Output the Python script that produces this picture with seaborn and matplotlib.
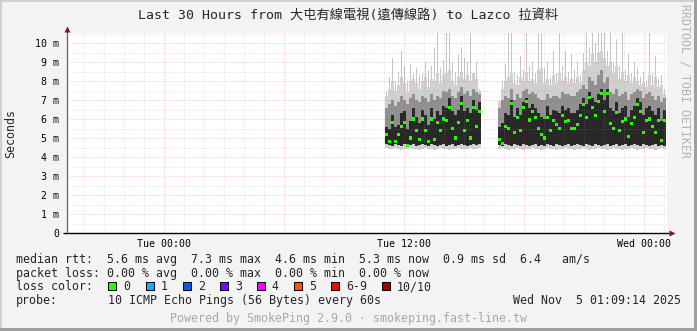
import numpy as np
import pandas as pd
import matplotlib
matplotlib.use("Agg")
import matplotlib.pyplot as plt
import matplotlib.dates as mdates
import matplotlib.ticker as mticker
from matplotlib.patches import Rectangle
import seaborn as sns

# ---------------- data ----------------
title = "Last 30 Hours from 大屯有線電視(遠傳線路) to Lazco 拉資料"
window_start = "2025-11-03 19:09:14"
window_end = "2025-11-05 01:09:14"
segment_starts = ["2025-11-04 11:03", "2025-11-04 16:42"]
segment_lengths = [32, 56]
step_minutes = 9

rtt_min = [
    4.45, 4.40, 4.40, 4.45, 4.40, 4.35, 4.40, 4.40,
    4.45, 4.40, 4.40, 4.35, 4.40, 4.45, 4.40, 4.40,
    4.35, 4.40, 4.45, 4.40, 4.40, 4.35, 4.40, 4.40,
    4.45, 4.40, 4.40, 4.40, 4.45, 4.40, 4.40, 4.45,
    4.40, 4.45, 4.40, 4.35, 4.40, 4.40, 4.45, 4.40,
    4.35, 4.40, 4.40, 4.45, 4.40, 4.40, 4.35, 4.40,
    4.45, 4.40, 4.40, 4.35, 4.40, 4.40, 4.45, 4.40,
    4.40, 4.35, 4.40, 4.40, 4.45, 4.40, 4.35, 4.40,
    4.40, 4.45, 4.40, 4.40, 4.35, 4.40, 4.45, 4.40,
    4.40, 4.35, 4.40, 4.40, 4.45, 4.40, 4.35, 4.40,
    4.40, 4.45, 4.40, 4.40, 4.35, 4.40, 4.45, 4.40,
]
rtt_p25 = [
    4.70, 4.65, 4.60, 4.70, 4.65, 4.60, 4.70, 4.60,
    4.65, 4.70, 4.60, 4.65, 4.70, 4.65, 4.60, 4.70,
    4.65, 4.60, 4.65, 4.70, 4.60, 4.65, 4.70, 4.60,
    4.65, 4.70, 4.65, 4.60, 4.65, 4.70, 4.65, 4.70,
    4.65, 4.60, 4.70, 4.65, 4.60, 4.70, 4.65, 4.60,
    4.70, 4.65, 4.60, 4.65, 4.70, 4.60, 4.65, 4.60,
    4.70, 4.65, 4.60, 4.70, 4.65, 4.60, 4.65, 4.70,
    4.60, 4.65, 4.70, 4.65, 4.60, 4.70, 4.65, 4.60,
    4.70, 4.65, 4.60, 4.65, 4.70, 4.60, 4.65, 4.70,
    4.60, 4.65, 4.70, 4.60, 4.65, 4.70, 4.65, 4.60,
    4.70, 4.65, 4.60, 4.65, 4.70, 4.60, 4.65, 4.60,
]
rtt_median = [
    5.2, 4.8, 5.8, 4.8, 5.2, 5.6, 5.8, 4.6,
    5.0, 6.0, 5.4, 4.9, 6.0, 5.4, 4.8, 6.0,
    4.9, 5.8, 5.4, 6.0, 5.9, 6.6, 5.5, 5.0,
    5.8, 6.8, 5.4, 5.9, 5.0, 6.6, 5.6, 6.4,
    4.9, 4.7, 5.6, 5.5, 6.8, 5.3, 6.1, 5.4,
    6.6, 6.9, 5.95, 6.4, 6.1, 5.5, 5.2, 5.0,
    6.1, 5.4, 5.9, 5.7, 5.5, 6.2, 5.85, 5.9,
    5.5, 5.5, 5.7, 6.2, 6.75, 6.1, 7.15, 6.6,
    6.2, 6.9, 7.35, 6.4, 7.35, 5.75, 5.5, 6.35,
    5.4, 5.85, 6.0, 5.1, 5.75, 6.1, 6.75, 6.4,
    5.3, 5.9, 6.0, 5.6, 5.3, 5.9, 4.85, 5.9,
]
rtt_p75 = [
    5.6, 5.5, 6.2, 5.6, 5.7, 6.3, 6.4, 5.5,
    5.9, 6.6, 6.1, 5.8, 6.5, 6.2, 5.7, 6.6,
    6.0, 6.4, 6.2, 6.7, 6.6, 7.1, 6.4, 6.2,
    6.5, 7.2, 6.4, 6.6, 6.3, 7.0, 6.5, 6.9,
    5.6, 5.8, 6.3, 6.2, 7.0, 6.1, 6.6, 6.2,
    6.9, 7.1, 6.6, 6.8, 6.6, 6.3, 6.1, 6.0,
    6.7, 6.2, 6.5, 6.4, 6.3, 6.7, 6.5, 6.6,
    6.3, 6.3, 6.5, 6.8, 7.1, 6.8, 7.4, 7.1,
    6.9, 7.3, 7.6, 7.0, 7.6, 6.6, 6.4, 6.9,
    6.3, 6.6, 6.7, 6.1, 6.5, 6.7, 7.1, 6.9,
    6.2, 6.6, 6.7, 6.4, 6.2, 6.6, 5.9, 6.5,
]
rtt_p90 = [
    6.6, 6.8, 7.0, 6.7, 6.9, 7.2, 7.0, 6.8,
    7.1, 7.3, 7.0, 6.9, 7.2, 7.1, 6.9, 7.3,
    7.0, 7.2, 7.1, 7.5, 7.4, 7.6, 7.2, 7.1,
    7.4, 7.7, 7.3, 7.5, 7.2, 7.6, 7.4, 7.3,
    6.6, 7.0, 7.2, 7.1, 7.6, 7.0, 7.3, 7.1,
    7.5, 7.6, 7.3, 7.4, 7.3, 7.1, 7.0, 7.0,
    7.3, 7.1, 7.2, 7.2, 7.1, 7.4, 7.3, 7.3,
    7.2, 7.2, 7.4, 7.6, 7.8, 7.6, 8.2, 8.0,
    7.8, 8.3, 8.6, 7.9, 8.2, 7.4, 7.3, 7.6,
    7.2, 7.3, 7.4, 7.0, 7.3, 7.4, 7.6, 7.5,
    7.1, 7.3, 7.4, 7.2, 7.0, 7.2, 6.9, 7.1,
]
rtt_ping9 = [
    7.2, 7.6, 8.0, 7.5, 7.8, 8.2, 7.9, 7.4,
    8.0, 8.1, 7.9, 7.6, 8.0, 8.2, 7.7, 8.1,
    8.0, 8.4, 7.9, 8.3, 8.4, 8.6, 8.0, 7.8,
    8.2, 8.5, 8.1, 8.3, 8.0, 8.4, 8.1, 7.5,
    6.9, 7.6, 8.0, 8.2, 8.4, 7.9, 7.8, 8.2,
    8.0, 8.5, 8.0, 8.1, 7.9, 8.6, 8.7, 7.9,
    8.1, 7.8, 8.3, 7.9, 8.4, 8.0, 8.2, 7.9,
    8.1, 7.9, 8.2, 7.9, 8.6, 9.0, 8.8, 9.4,
    9.0, 9.5, 9.6, 9.2, 8.8, 9.0, 8.4, 8.8,
    8.1, 8.5, 8.0, 8.3, 7.9, 8.2, 8.0, 7.8,
    7.9, 7.7, 8.3, 7.8, 8.2, 7.7, 7.8, 7.3,
]
rtt_max = [
    7.4, 8.2, 9.2, 8.0, 8.5, 9.6, 8.8, 8.0,
    8.9, 8.4, 8.7, 8.3, 8.4, 9.0, 8.6, 8.8,
    9.8, 10.6, 8.7, 9.1, 10.6, 10.6, 9.0, 8.5,
    9.4, 9.8, 9.2, 9.0, 10.6, 8.4, 9.0, 7.6,
    7.0, 8.0, 8.9, 10.6, 10.6, 8.5, 8.3, 9.3,
    8.6, 10.6, 8.8, 9.0, 8.4, 10.6, 10.6, 8.7,
    9.0, 8.2, 9.6, 8.4, 10.6, 8.8, 9.6, 8.5,
    9.4, 8.6, 9.0, 8.3, 9.5, 10.6, 9.8, 10.6,
    10.0, 10.6, 10.6, 10.6, 9.6, 10.6, 9.0, 10.2,
    8.8, 10.6, 8.6, 9.4, 8.4, 9.0, 8.7, 8.2,
    8.5, 8.0, 10.6, 8.4, 9.3, 8.1, 8.3, 7.6,
]

x_tick_times = ["2025-11-04 00:00", "2025-11-04 12:00", "2025-11-05 00:00"]
x_tick_labels = ["Tue 00:00", "Tue 12:00", "Wed 00:00"]
y_ticks = [0, 1, 2, 3, 4, 5, 6, 7, 8, 9, 10]
y_tick_labels = ["0", "1 m", "2 m", "3 m", "4 m", "5 m", "6 m", "7 m", "8 m", "9 m", "10 m"]
y_label = "Seconds"

stats_line1 = "median rtt:  5.6 ms avg  7.3 ms max  4.6 ms min  5.3 ms now  0.9 ms sd  6.4   am/s"
stats_line2 = "packet loss: 0.00 % avg  0.00 % max  0.00 % min  0.00 % now"
loss_title = "loss color:"
loss_labels = ["0", "1", "2", "3", "4", "5", "6-9", "10/10"]
loss_colors = ["#26ff00", "#00b8ff", "#0059ff", "#7e00ff", "#ff00ff", "#ff5500", "#ff0000", "#a00000"]
probe_label = "probe:"
probe_text = "10 ICMP Echo Pings (56 Bytes) every 60s"
stamp_text = "Wed Nov  5 01:09:14 2025"
footer_text = "Powered by SmokePing 2.9.0 · smokeping.fast-line.tw"
side_text = "RRDTOOL / TOBI OETIKER"

# ---------------- style ----------------
sns.set_theme(style="white")
MONO = ["DejaVu Sans Mono", "Noto Sans CJK TC"]
plt.rcParams["font.family"] = MONO
plt.rcParams["axes.unicode_minus"] = False

W, H = 697, 331
fig = plt.figure(figsize=(W / 100, H / 100), dpi=100)
fig.patch.set_facecolor("#f3f3f3")

ax = fig.add_axes([67 / W, (H - 233) / H, 600 / W, 200 / H])
ax.set_facecolor("white")
for s in ax.spines.values():
    s.set_visible(False)

# times
times = []
for st, n in zip(segment_starts, segment_lengths):
    times.extend(pd.date_range(st, periods=n, freq=f"{step_minutes}min"))
tnum = mdates.date2num(pd.to_datetime(times).to_pydatetime())
step = step_minutes / 1440.0

df = pd.DataFrame({
    "t": tnum, "lo": rtt_min, "p25": rtt_p25, "med": rtt_median,
    "p75": rtt_p75, "p90": rtt_p90, "p9": rtt_ping9, "hi": rtt_max,
})

# smoke
ax.bar(df["t"] + step / 3, df["hi"] - df["lo"], bottom=df["lo"], width=step / 3,
       align="edge", color="#c6c6c6", linewidth=0, zorder=1)
ax.bar(df["t"], df["p9"] - df["lo"], bottom=df["lo"], width=step,
       align="edge", color="#d0d0d0", linewidth=0, zorder=1.1)
ax.bar(df["t"], df["p90"] - df["p25"], bottom=df["p25"], width=step,
       align="edge", color="#909090", linewidth=0, zorder=1.2)
ax.bar(df["t"], df["p75"] - df["p25"], bottom=df["p25"], width=step,
       align="edge", color="#282828", linewidth=0, zorder=1.3)

sns.scatterplot(x=df["t"] + step / 2, y=df["med"], marker="s", s=5,
                color=loss_colors[0], edgecolor="none", linewidth=0,
                ax=ax, zorder=4, legend=False)
ax.set_xlabel("")

x0 = mdates.date2num(pd.Timestamp(window_start).to_pydatetime())
x1 = mdates.date2num(pd.Timestamp(window_end).to_pydatetime())
ax.set_xlim(x0, x1)
ax.set_ylim(0, 200 / 19)

# ticks / grid
label_nums = mdates.date2num(pd.to_datetime(x_tick_times).to_pydatetime())
def xfmt(v, pos):
    for n, lab in zip(label_nums, x_tick_labels):
        if abs(v - n) < 1e-4:
            return lab
    return ""
ax.xaxis.set_major_locator(mdates.HourLocator(byhour=[0, 6, 12, 18]))
ax.xaxis.set_minor_locator(mdates.HourLocator())
ax.xaxis.set_major_formatter(mticker.FuncFormatter(xfmt))
ax.xaxis.set_minor_formatter(mticker.NullFormatter())
ax.yaxis.set_major_locator(mticker.FixedLocator(y_ticks))
ax.yaxis.set_major_formatter(mticker.FixedFormatter(y_tick_labels))
ax.yaxis.set_minor_locator(mticker.MultipleLocator(0.5))

ax.set_axisbelow(False)
dot = (0, (1.0, 1.4))
ax.grid(which="major", color="#ff0000", alpha=0.22, lw=0.72, ls=dot)
ax.grid(which="minor", color="#9a9a9a", alpha=0.28, lw=0.72, ls=dot)

ax.tick_params(axis="both", which="both", direction="out", labelsize=7.1,
               labelcolor="#000000")
ax.tick_params(axis="x", which="major", length=2.5, width=0.72, color="#e8a0a0", pad=1.6)
ax.tick_params(axis="x", which="minor", length=2, width=0.72, color="#d8d8d8")
ax.tick_params(axis="y", which="major", length=3, width=0.72, color="#e8a0a0", pad=2.5)
ax.tick_params(axis="y", which="minor", length=2, width=0.72, color="#d8d8d8")
for lab in ax.get_xticklabels() + ax.get_yticklabels():
    lab.set_fontfamily(MONO)

ax.set_ylabel(y_label, fontsize=8.4)
ax.yaxis.label.set_va("center")
ax.yaxis.label.set_ha("center")
ax.yaxis.set_label_coords(-56 / 600, 0.5)

# axis lines and arrows
ax.plot([-4 / 600, 1 + 2 / 600], [0, 0], transform=ax.transAxes, color="#000000",
        lw=1.0, clip_on=False, zorder=6, solid_capstyle="butt")
ax.plot([0, 0], [0, 1 + 2 / 200], transform=ax.transAxes, color="#606060",
        lw=0.9, clip_on=False, zorder=6, solid_capstyle="butt")
ax.plot([1 + 4.5 / 600], [0], marker=">", ms=4.2, color="#8b1010", mec="none",
        transform=ax.transAxes, clip_on=False, zorder=7)
ax.plot([0], [1 + 4 / 200], marker="^", ms=4.2, color="#8b1010", mec="none",
        transform=ax.transAxes, clip_on=False, zorder=7)

# ---------------- texts ----------------
def T(x, y, s, **kw):
    kw.setdefault("fontsize", 8.4)
    kw.setdefault("family", MONO)
    kw.setdefault("va", "center")
    return fig.text(x / W, 1 - y / H, s, **kw)

T(348.5, 16, title, ha="center", fontsize=9.5)
T(685.5, 81, side_text, ha="center", rotation=270, color="#b4b4b4")
T(16, 259.5, stats_line1)
T(16, 273.3, stats_line2)
T(16, 287, loss_title)
box_x = [108, 145.7, 182.7, 220, 256.7, 294, 331, 381.7]
for bx, lab, col in zip(box_x, loss_labels, loss_colors):
    fig.add_artist(Rectangle((bx / W, 1 - 290 / H), 8 / W, 8 / H,
                             transform=fig.transFigure, facecolor=col,
                             edgecolor="#000000", lw=0.75))
    T(bx + 15, 287, lab)
T(16, 300.7, probe_label)
T(107.5, 300.7, probe_text)
T(681, 300.7, stamp_text, ha="right")
T(348.5, 318.3, footer_text, ha="center", color="#a8a8a8")

# frame
fig.add_artist(Rectangle((0, 0), 2 / W, 1, transform=fig.transFigure,
                         facecolor="#cfcfcf", edgecolor="none"))
fig.add_artist(Rectangle((0, 1 - 2 / H), 1, 2 / H, transform=fig.transFigure,
                         facecolor="#cfcfcf", edgecolor="none"))
fig.add_artist(Rectangle((1 - 3 / W, 0), 3 / W, 1, transform=fig.transFigure,
                         facecolor="#9e9e9e", edgecolor="none"))
fig.add_artist(Rectangle((0, 0), 1, 3 / H, transform=fig.transFigure,
                         facecolor="#9e9e9e", edgecolor="none"))

fig.savefig("out.png", dpi=100, facecolor=fig.get_facecolor())
